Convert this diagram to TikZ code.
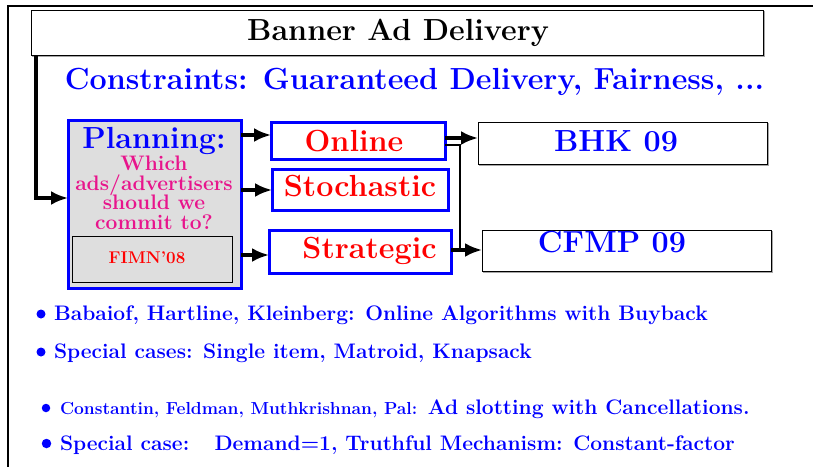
\documentclass[tikz,border=0pt]{standalone}
\usetikzlibrary{arrows.meta}
\definecolor{pinkish}{RGB}{232,20,140}
\definecolor{boxgray}{RGB}{222,222,222}
\newcommand{\fs}[1]{\fontsize{#1}{#1}\selectfont\bfseries}
\tikzset{
  x=1pt, y=-1pt,
  every node/.style={inner sep=0pt, outer sep=0pt},
  bluebox/.style={draw=blue, line width=3pt, fill=white},
  plainbox/.style={draw=black, line width=0.9pt, fill=white},
  shadowed/.style={preaction={draw=gray!70, line width=1.6pt, fill=gray!70, transform canvas={shift={(1.5pt,-1.5pt)}}}},
  arr/.style={line width=3.2pt, -{Latex[length=17pt, width=14pt]}},
  thinarr/.style={line width=1.6pt},
  big/.style={font=\fs{30.5}},
  mid/.style={font=\fs{21}},
  item/.style={font=\fs{21}, text=blue, anchor=base west},
  dot/.style={circle, fill=blue, minimum size=9pt},
}
\begin{document}
\begin{tikzpicture}
\useasboundingbox (0,0) rectangle (813,466);
% outer frame
\draw[line width=1.4pt] (8,470) -- (8,6) -- (820,6);

% title
\node[plainbox, shadowed, minimum width=732pt, minimum height=45pt] (title) at (397,32.5) {};
\node[big, anchor=base] (titleT) at (398,40.5) {Banner Ad Delivery};

% constraints
\node[big, text=blue, anchor=base] (constr) at (414.5,89) {Constraints: Guaranteed Delivery, Fairness, ...};

% planning box
\node[draw=blue, line width=3pt, fill=boxgray, minimum width=173pt, minimum height=168pt] (plan) at (154.5,204) {};
\node[big, text=blue, anchor=base] (planT) at (154,148.5) {Planning:};
\node[mid, text=pinkish, anchor=base] (q1) at (154,170.5) {Which};
\node[mid, text=pinkish, anchor=base] (q2) at (154,190) {ads/advertisers};
\node[mid, text=pinkish, anchor=base] (q3) at (154,209.5) {should we};
\node[mid, text=pinkish, anchor=base] (q4) at (154,229) {commit to?};
\node[draw=black, line width=0.8pt, fill=boxgray, minimum width=160pt, minimum height=46pt] (fimn) at (152,259) {};
\node[font=\fs{17}, text=red, anchor=base] (fimnT) at (147,263.5) {FIMN'08};

% approaches
\node[bluebox, minimum width=174pt, minimum height=37pt] (online) at (358,140.5) {};
\node[big, text=red, anchor=base] (onlineT) at (354,151) {Online};
\node[bluebox, minimum width=176pt, minimum height=41pt] (stoch) at (360,189.5) {};
\node[big, text=red, anchor=base] (stochT) at (360,196) {Stochastic};
\node[bluebox, minimum width=182pt, minimum height=43pt] (strat) at (360,251.5) {};
\node[big, text=red, anchor=base] (stratT) at (369.5,258) {Strategic};

% references
\node[plainbox, shadowed, minimum width=289pt, minimum height=42pt] (bhk) at (622.5,143) {};
\node[big, text=blue, anchor=base] (bhkT) at (616,151) {BHK 09};
\node[plainbox, shadowed, minimum width=289pt, minimum height=41pt] (cfmp) at (626.5,250.5) {};
\node[big, text=blue, anchor=base] (cfmpT) at (612,252) {CFMP 09};

% connectors
\coordinate (drop) at (36,198);
\draw[arr] (title.south -| drop) -- (drop) -- (plan.west |- drop);
\draw[arr] (plan.east |- 0,135) -- (online.west |- 0,135);
\draw[arr] (plan.east |- 0,190) -- (stoch.west |- 0,190);
\draw[arr] (plan.east |- 0,255) -- (strat.west |- 0,255);
\draw[arr] (online.east |- 0,138) -- (bhk.west |- 0,138);
\coordinate (bend) at (460,145);
\draw[thinarr] (online.east |- bend) -- (bend) -- (bend |- 0,250);
\draw[arr] (strat.east |- 0,250) -- (cfmp.west |- 0,250);

% bullet list
\node[dot] (d1) at (41,314) {};
\node[item] (b1) at (54,320) {Babaiof, Hartline, Kleinberg: Online Algorithms with Buyback};
\node[dot] (d2) at (41,352) {};
\node[item] (b2) at (54,358) {Special cases: Single item, Matroid, Knapsack};
\node[dot, minimum size=8.5pt] (d3) at (46,408) {};
\node[item] (b3) at (60,414) {{\fontsize{17.4}{17.4}\selectfont Constantin, Feldman, Muthkrishnan, Pal:} Ad slotting with Cancellations.};
\node[dot, minimum size=9.5pt] (d4) at (46.5,443.5) {};
\node[item] (b4) at (60,450) {Special case:\hspace{0.7em} Demand=1, Truthful Mechanism: Constant-factor};
\end{tikzpicture}
\end{document}
